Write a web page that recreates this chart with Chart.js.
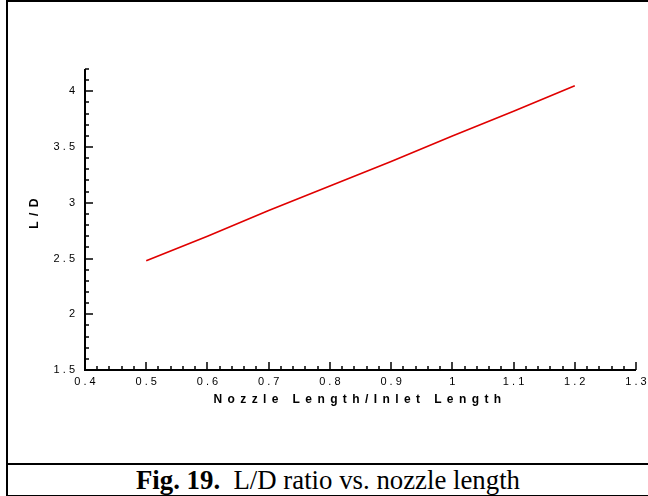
<!DOCTYPE html>
<html>
<head>
<meta charset="utf-8">
<script src="https://cdn.jsdelivr.net/npm/chart.js@4"></script>
<style>
  html, body { margin: 0; padding: 0; background: #fff; }
  #frame {
    position: absolute; left: 6px; top: 0; width: 650px; height: 493px;
    border-left: 2px solid #000; border-top: 2px solid #000; border-bottom: 2px solid #000;
    box-sizing: content-box;
  }
  #plot { position: absolute; left: 0; top: 0; width: 648px; height: 462px; }
  #caption {
    position: absolute; left: 8px; top: 463px; width: 640px; height: 32px;
    border-top: 2px solid #000; box-sizing: border-box;
    font-family: "Liberation Serif", "Times New Roman", serif; font-size: 26.8px;
    line-height: 30px; text-align: center; color: #000; white-space: nowrap;
  }
</style>
</head>
<body>
<div id="frame"></div>
<div id="plot"><canvas id="chart"></canvas></div>
<div id="caption"><b>Fig. 19.</b>&nbsp; L/D ratio vs. nozzle length</div>
<script>
document.addEventListener("DOMContentLoaded", function () {
    // values
    const nozzleRatio = [0.5, 0.6, 0.7, 0.8, 0.9, 1.0, 1.1, 1.2];
    const liftDrag = [2.48, 2.70, 2.93, 3.15, 3.37, 3.60, 3.82, 4.05];
    const xTitle = "Nozzle Length/Inlet Length";
    const yTitle = "L/D";

    const spaced = v => String(+(+v).toFixed(1)).split("").join(" ");

    // inward ticks + spaced axis titles, Tecplot style
    const tecplotAxes = {
        id: "tecplotAxes",
        afterDraw(chart) {
            const ctx = chart.ctx;
            const xs = chart.scales.x, ys = chart.scales.y;
            const area = chart.chartArea;
            ctx.save();
            ctx.strokeStyle = "#000";
            ctx.lineWidth = 2;
            ctx.beginPath();
            ctx.moveTo(area.left, area.top);
            ctx.lineTo(area.left, area.bottom);
            ctx.lineTo(area.right, area.bottom);
            ctx.stroke();

            ctx.lineWidth = 1.5;
            ctx.beginPath();
            for (let i = 0; i <= 45; i++) {
                const v = 0.4 + i * 0.02;
                const px = Math.round(xs.getPixelForValue(v));
                const len = i % 5 === 0 ? 8 : 4;
                ctx.moveTo(px, area.bottom);
                ctx.lineTo(px, area.bottom - len);
            }
            for (let i = 0; i <= 27; i++) {
                const v = 1.5 + i * 0.1;
                const py = Math.round(ys.getPixelForValue(v));
                const len = i % 5 === 0 ? 8 : 4;
                ctx.moveTo(area.left, py);
                ctx.lineTo(area.left + len, py);
            }
            ctx.stroke();

            ctx.fillStyle = "#000";
            ctx.font = "bold 12px 'Liberation Sans', Arial, sans-serif";
            ctx.textAlign = "center";
            ctx.textBaseline = "middle";
            ctx.letterSpacing = "5.4px";
            ctx.fillText(xTitle, 360, 400);
            ctx.translate(35, 213);
            ctx.rotate(-Math.PI / 2);
            ctx.fillText(yTitle, 2, 0);
            ctx.restore();
        }
    };

    const ctx = document.getElementById("chart").getContext("2d");
    new Chart(ctx, {
        type: "scatter",
        data: {
            datasets: [{
                data: nozzleRatio.map((x, i) => ({ x: x, y: liftDrag[i] })),
                showLine: true,
                borderColor: "#e00000",
                borderWidth: 1.6,
                pointRadius: 0,
                tension: 0
            }]
        },
        options: {
            responsive: true,
            maintainAspectRatio: false,
            animation: false,
            layout: { padding: { left: 0, right: 12, top: 69, bottom: 0 } },
            plugins: { legend: { display: false }, tooltip: { enabled: false } },
            scales: {
                x: {
                    type: "linear",
                    min: 0.4, max: 1.3,
                    grid: { display: false, drawTicks: false },
                    border: { display: false },
                    ticks: {
                        stepSize: 0.1,
                        includeBounds: false,
                        autoSkip: false,
                        maxRotation: 0,
                        padding: 5,
                        color: "#000",
                        font: { family: "'Liberation Sans', Arial, sans-serif", size: 11 },
                        callback: v => spaced(v)
                    },
                    afterFit: s => { s.height = 92; s.paddingLeft = 0; s.paddingRight = 0; }
                },
                y: {
                    min: 1.5, max: 4.2,
                    grid: { display: false, drawTicks: false },
                    border: { display: false },
                    ticks: {
                        stepSize: 0.5,
                        includeBounds: false,
                        autoSkip: false,
                        padding: 10,
                        color: "#000",
                        font: { family: "'Liberation Sans', Arial, sans-serif", size: 11 },
                        callback: v => spaced(v)
                    },
                    afterFit: s => { s.width = 85; s.paddingTop = 0; s.paddingBottom = 0; }
                }
            }
        },
        plugins: [tecplotAxes]
    });
});
</script>
</body>
</html>
